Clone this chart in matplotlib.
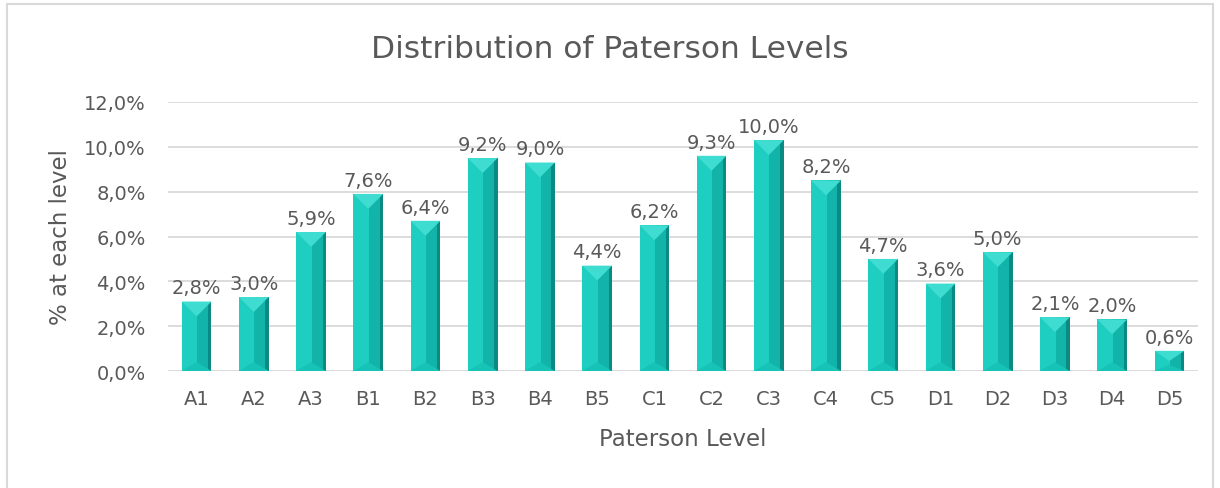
import matplotlib.pyplot as plt
import matplotlib.patches as mpatches
from matplotlib.ticker import FuncFormatter
import numpy as np

levels = ["A1", "A2", "A3", "B1", "B2", "B3", "B4", "B5", "C1",
          "C2", "C3", "C4", "C5", "D1", "D2", "D3", "D4", "D5"]
share = [2.8, 3.0, 5.9, 7.6, 6.4, 9.2, 9.0, 4.4, 6.2,
         9.3, 10.0, 8.2, 4.7, 3.6, 5.0, 2.1, 2.0, 0.6]

TEXT = "#595959"
GRID = "#D9D9D9"
FONT = ["DejaVu Sans"]
DEPTH = 0.3      # extra height from the 3D bevel look
BAR_W = 0.52

plt.rcParams["font.family"] = FONT

fig = plt.figure(figsize=(12.2, 4.89), dpi=100)
ax = fig.add_axes([168 / 1220, 1 - 372 / 489, 1030 / 1220, 269 / 489])

# outer chart frame
fig.patches.append(mpatches.Rectangle((7 / 1220, -0.05), 1206 / 1220, 1 - 5 / 489 + 0.05,
                                      transform=fig.transFigure, fill=False,
                                      edgecolor=GRID, linewidth=1.5))

x = np.arange(len(levels))
ax.set_xlim(-0.5, len(levels) - 0.5)
ax.set_ylim(0, 12)

# pixels -> data scale for the bevel triangle (45 degree look)
px_per_x = 1030 / len(levels)
px_per_y = 269 / 12
half_w = BAR_W / 2
tri_d = half_w * px_per_x / px_per_y

for xi, v in zip(x, share):
    top = v + DEPTH
    x0, x1 = xi - half_w, xi + half_w
    d = min(tri_d, top / 2)
    ax.add_patch(mpatches.Rectangle((x0, 0), BAR_W, top, facecolor="#12B4AA",
                                    edgecolor="none", zorder=3))
    ax.add_patch(mpatches.Rectangle((x0, 0), half_w + 0.01, top, facecolor="#1DCEC1",
                                    edgecolor="none", zorder=3))
    ax.add_patch(mpatches.Rectangle((x1 - 0.06, 0), 0.06, top, facecolor="#0B8A83",
                                    edgecolor="none", zorder=3))
    ax.add_patch(mpatches.Polygon([(x0, top), (x1, top), (xi, top - d)],
                                  facecolor="#3FDDD1", edgecolor="none", zorder=4))
    ax.add_patch(mpatches.Polygon([(x0, 0), (x1, 0), (xi, d * 0.6)],
                                  facecolor="#17C2B6", edgecolor="none", zorder=4))
    ax.annotate(f"{v:.1f}%".replace(".", ","), (xi, top), xytext=(0, 3),
                textcoords="offset points", ha="center", va="bottom",
                fontsize=14, color=TEXT)

ax.set_yticks(np.arange(0, 12.1, 2))
ax.yaxis.set_major_formatter(FuncFormatter(lambda v, p: f"{v:.1f}%".replace(".", ",")))
ax.set_xticks(x)
ax.set_xticklabels(levels)
ax.grid(axis="y", color=GRID, linewidth=1.3, zorder=0)
ax.set_axisbelow(True)
for s in ax.spines.values():
    s.set_visible(False)
ax.tick_params(length=0, labelsize=14, colors=TEXT)
ax.tick_params(axis="x", pad=13)
ax.tick_params(axis="y", pad=16)

ax.set_xlabel("Paterson Level", fontsize=16.5, color=TEXT, labelpad=14)
ax.set_ylabel("% at each level", fontsize=16.5, color=TEXT, labelpad=9)
fig.text(0.5, 1 - 50 / 489, "Distribution of Paterson Levels", ha="center",
         va="center", fontsize=22.5, color=TEXT)

fig.savefig("out.png", dpi=100)
